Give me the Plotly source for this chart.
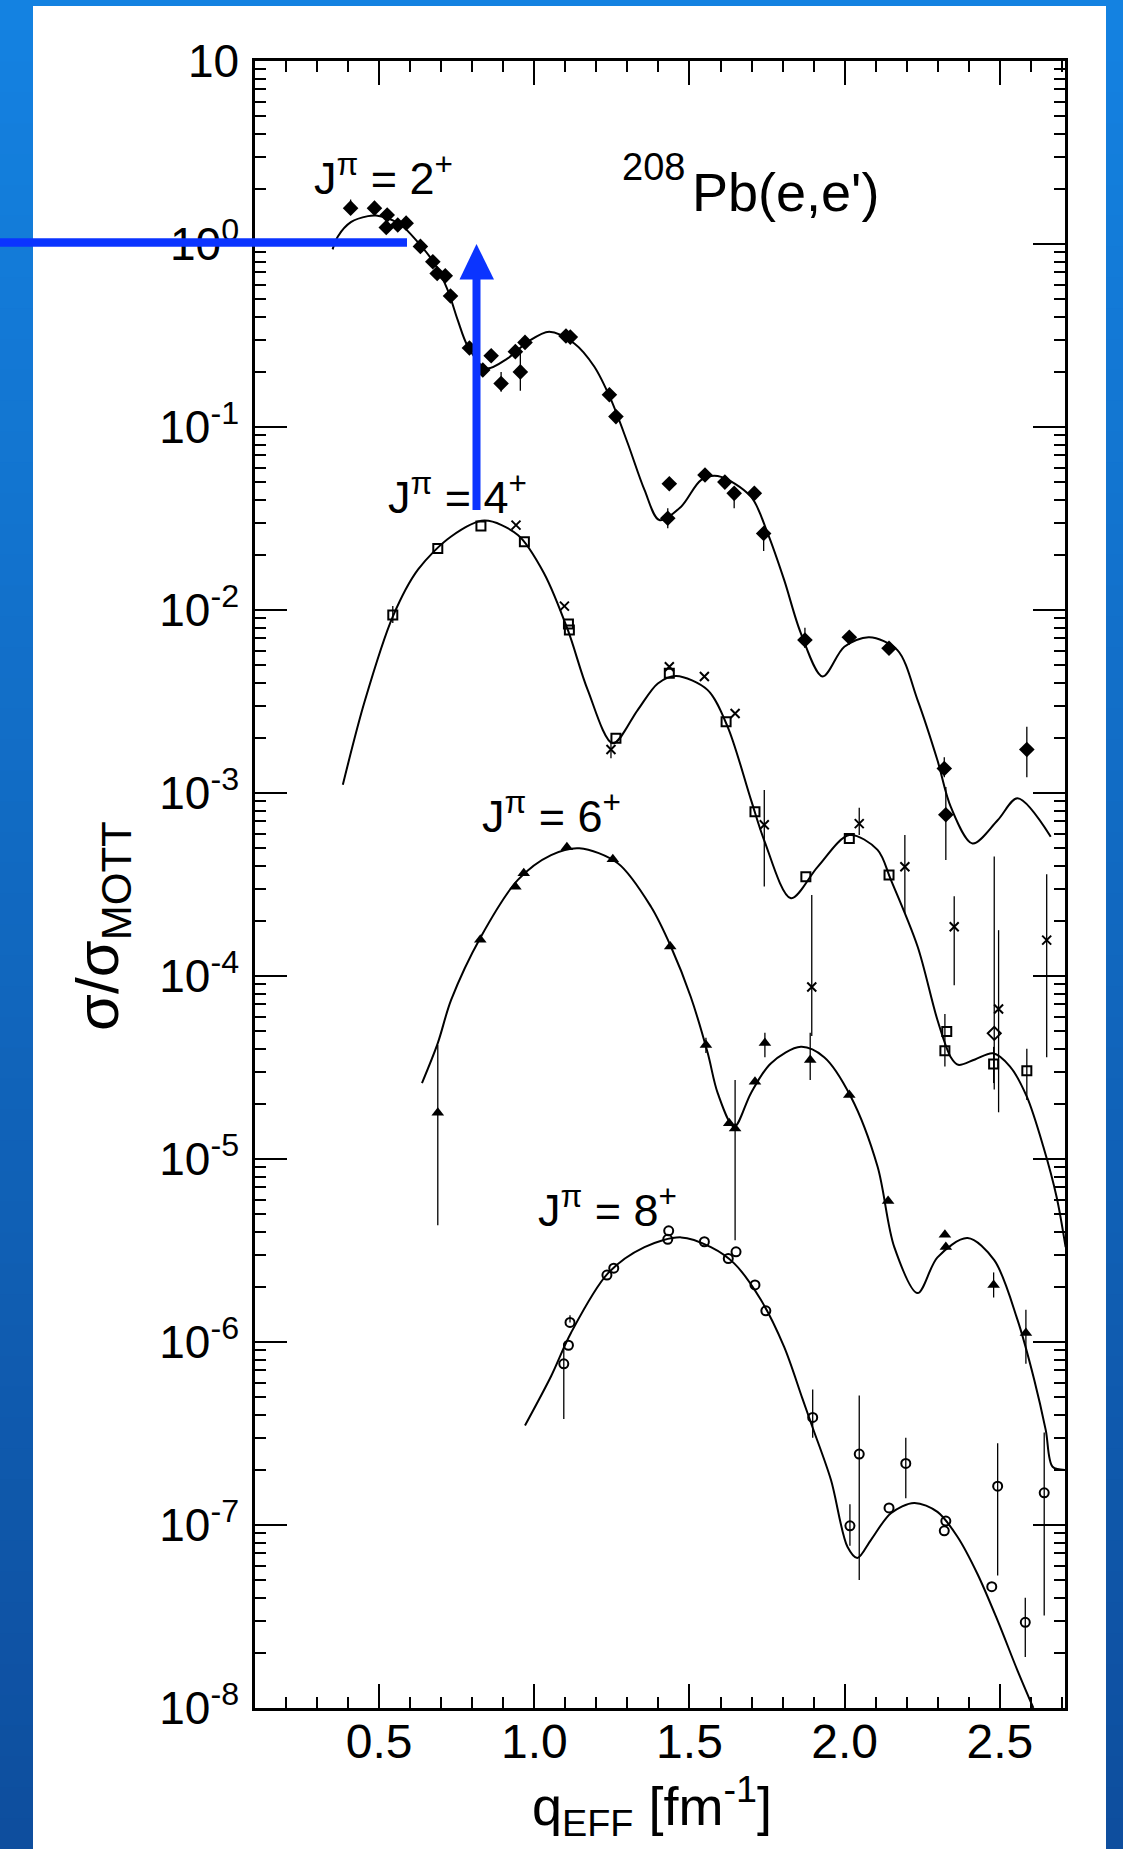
import plotly.graph_objects as go

# ---------------- data ----------------
# J = 2+ : filled diamonds
q2 = [0.408, 0.485, 0.526, 0.523, 0.560, 0.587, 0.633, 0.673, 0.687, 0.713, 0.730, 0.791, 0.834, 0.861,
      0.893, 0.939, 0.955, 0.970, 1.102, 1.116, 1.242, 1.263, 1.435, 1.430, 1.550, 1.614, 1.644, 1.709,
      1.739, 1.872, 2.015, 2.143, 2.321, 2.326, 2.587]
y2 = [1.57, 1.57, 1.44, 1.23, 1.27, 1.30, 0.97, 0.80, 0.69, 0.67, 0.52, 0.27, 0.205, 0.245,
      0.173, 0.258, 0.20, 0.29, 0.314, 0.31, 0.150, 0.114, 0.049, 0.0317, 0.0547, 0.050, 0.0434, 0.0434,
      0.0262, 0.00686, 0.0071, 0.00618, 0.00136, 0.00076, 0.00173]
y2_hi = [1.75, 1.72, 1.44, 1.23, 1.27, 1.30, 0.97, 0.80, 0.69, 0.67, 0.52, 0.27, 0.205, 0.245,
         0.20, 0.258, 0.258, 0.29, 0.314, 0.31, 0.150, 0.114, 0.049, 0.036, 0.0547, 0.050, 0.0434, 0.0434,
         0.0285, 0.0080, 0.0071, 0.00618, 0.00157, 0.00108, 0.0023]
y2_lo = [1.45, 1.45, 1.44, 1.23, 1.27, 1.30, 0.97, 0.80, 0.69, 0.67, 0.52, 0.27, 0.205, 0.245,
         0.156, 0.258, 0.158, 0.29, 0.314, 0.31, 0.150, 0.114, 0.049, 0.028, 0.0547, 0.050, 0.036, 0.0434,
         0.021, 0.0062, 0.0071, 0.00618, 0.00122, 0.00043, 0.00122]

# J = 4+ : open squares
q4s = [0.544, 0.689, 0.828, 0.968, 1.110, 1.113, 1.263, 1.435, 1.618, 1.711, 1.875, 2.015, 2.143,
       2.329, 2.323, 2.480, 2.587]
y4s = [0.0094, 0.0217, 0.0288, 0.0236, 0.00838, 0.00778, 0.00199, 0.00451, 0.00245, 0.00079, 0.000349,
       0.000565, 0.000356, 4.97e-5, 3.9e-5, 3.3e-5, 3.04e-5]
y4s_hi = [0.0105, 0.0217, 0.0288, 0.0236, 0.00838, 0.00778, 0.00199, 0.00451, 0.00245, 0.00079, 0.000349,
          0.000565, 0.000356, 4.97e-5, 6.2e-5, 4.1e-5, 4.0e-5]
y4s_lo = [0.0085, 0.0217, 0.0288, 0.0236, 0.00838, 0.00778, 0.00199, 0.00451, 0.00245, 0.00079, 0.000349,
          0.000565, 0.000356, 4.97e-5, 3.2e-5, 2.6e-5, 2.1e-5]

# J = 4+ : crosses (second data set)
q4x = [0.941, 1.097, 1.247, 1.435, 1.548, 1.647, 1.741, 1.894, 2.047, 2.194, 2.353, 2.496, 2.651]
y4x = [0.0291, 0.0105, 0.00173, 0.0049, 0.00433, 0.00272, 0.00067, 8.7e-5, 0.00068, 0.000395, 0.000186,
       6.6e-5, 0.000157]
y4x_hi = [0.0291, 0.0105, 0.0019, 0.0049, 0.00433, 0.00272, 0.00104, 0.000277, 0.00083, 0.00059, 0.000273,
          0.000178, 0.00036]
y4x_lo = [0.0291, 0.0105, 0.00155, 0.0049, 0.00433, 0.00272, 0.000308, 4.7e-5, 0.000589, 0.00022, 8.9e-5,
          1.8e-5, 3.6e-5]

# J = 4+ : open diamond
q4d = [2.482]
y4d = [4.86e-5]
y4d_hi = [0.00045]
y4d_lo = [2.4e-5]

# J = 6+ : filled triangles
q6 = [0.689, 0.826, 0.939, 0.966, 1.105, 1.253, 1.438, 1.553, 1.628, 1.647, 1.711, 1.743, 1.889, 2.015,
      2.140, 2.323, 2.326, 2.480, 2.584]
y6 = [1.79e-5, 0.000158, 0.000307, 0.000364, 0.000505, 0.000434, 0.000145, 4.2e-5, 1.57e-5, 1.47e-5,
      2.64e-5, 4.3e-5, 3.47e-5, 2.24e-5, 5.9e-6, 3.85e-6, 3.3e-6, 2.05e-6, 1.12e-6]
y6_hi = [4.2e-5, 0.000158, 0.000307, 0.000364, 0.000505, 0.000434, 0.000145, 4.6e-5, 1.57e-5, 2.7e-5,
         2.64e-5, 4.9e-5, 4.9e-5, 2.24e-5, 5.9e-6, 3.85e-6, 3.3e-6, 2.4e-6, 1.5e-6]
y6_lo = [4.35e-6, 0.000158, 0.000307, 0.000364, 0.000505, 0.000434, 0.000145, 3.8e-5, 1.57e-5, 3.6e-6,
         2.64e-5, 3.6e-5, 2.7e-5, 2.24e-5, 5.9e-6, 3.85e-6, 3.3e-6, 1.75e-6, 7.6e-7]

# J = 8+ : open circles
q8 = [1.095, 1.110, 1.115, 1.234, 1.256, 1.433, 1.430, 1.548, 1.625, 1.650, 1.711, 1.746, 1.897, 2.017,
      2.047, 2.143, 2.197, 2.326, 2.321, 2.474, 2.493, 2.582, 2.643]
y8 = [7.6e-7, 9.6e-7, 1.28e-6, 2.32e-6, 2.53e-6, 4.05e-6, 3.64e-6, 3.53e-6, 2.86e-6, 3.11e-6, 2.05e-6,
      1.48e-6, 3.87e-7, 9.9e-8, 2.44e-7, 1.24e-7, 2.17e-7, 1.05e-7, 9.3e-8, 4.6e-8, 1.63e-7, 2.94e-8, 1.5e-7]
y8_hi = [9.8e-7, 9.6e-7, 1.4e-6, 2.32e-6, 2.53e-6, 4.05e-6, 3.64e-6, 3.53e-6, 2.86e-6, 3.11e-6, 2.05e-6,
         1.48e-6, 5.5e-7, 1.3e-7, 5.1e-7, 1.24e-7, 3.0e-7, 1.05e-7, 9.3e-8, 4.6e-8, 2.8e-7, 4.0e-8, 3.2e-7]
y8_lo = [3.8e-7, 9.6e-7, 1.28e-6, 2.32e-6, 2.53e-6, 4.05e-6, 3.64e-6, 3.53e-6, 2.86e-6, 3.11e-6, 2.05e-6,
         1.48e-6, 3.0e-7, 7.7e-8, 5.0e-8, 1.24e-7, 1.4e-7, 1.05e-7, 9.3e-8, 4.6e-8, 5.3e-8, 1.9e-8, 3.2e-8]

# theory curves
c2x = [0.350, 0.367, 0.410, 0.464, 0.490, 0.528, 0.571, 0.619, 0.678, 0.721, 0.753, 0.786, 0.845, 0.914,
       0.979, 1.048, 1.129, 1.193, 1.247, 1.301, 1.355, 1.403, 1.473, 1.537, 1.591, 1.698, 1.752, 1.805,
       1.859, 1.929, 1.999, 2.079, 2.170, 2.235, 2.299, 2.342, 2.412, 2.493, 2.557, 2.664]
c2y = [0.935, 1.10, 1.32, 1.42, 1.43, 1.38, 1.27, 1.05, 0.785, 0.56, 0.385, 0.275, 0.209, 0.237,
       0.292, 0.332, 0.286, 0.214, 0.141, 0.0815, 0.0453, 0.031, 0.0367, 0.0513, 0.054, 0.0416, 0.0262, 0.0146,
       0.00746, 0.00433, 0.0063, 0.0071, 0.00604, 0.00322, 0.00151, 0.00084, 0.00053, 0.00071, 0.000935, 0.000577]

c4x = [0.383, 0.453, 0.544, 0.625, 0.732, 0.839, 0.947, 1.032, 1.108, 1.172, 1.253, 1.333, 1.398, 1.457,
       1.558, 1.623, 1.698, 1.741, 1.827, 1.913, 2.015, 2.106, 2.149, 2.235, 2.299, 2.342, 2.366, 2.420,
       2.478, 2.533, 2.587, 2.640, 2.683, 2.712]
c4y = [0.00111, 0.00315, 0.0092, 0.0166, 0.0252, 0.0308, 0.0257, 0.0158, 0.00778, 0.00366, 0.00187, 0.00284,
       0.00397, 0.00436, 0.00366, 0.0023, 0.00092, 0.00055, 0.000266, 0.000395, 0.000589, 0.000489, 0.000335,
       0.000145, 5.75e-5, 3.6e-5, 3.27e-5, 3.5e-5, 3.78e-5, 3.2e-5, 2.19e-5, 1.17e-5, 6.2e-6, 3.3e-6]

c6x = [0.638, 0.689, 0.732, 0.828, 0.947, 1.054, 1.145, 1.269, 1.376, 1.440, 1.504, 1.559, 1.591, 1.644,
       1.698, 1.762, 1.859, 1.934, 2.020, 2.106, 2.160, 2.235, 2.299, 2.396, 2.482, 2.557, 2.611, 2.648,
       2.670, 2.712]
c6y = [2.6e-5, 4.3e-5, 7.4e-5, 0.000164, 0.000335, 0.000458, 0.000499, 0.000413, 0.000239, 0.000145, 7.7e-5,
       3.78e-5, 2.29e-5, 1.5e-5, 2.29e-5, 3.33e-5, 4.1e-5, 3.6e-5, 2.19e-5, 9.1e-6, 3.3e-6, 1.85e-6, 2.9e-6,
       3.7e-6, 2.8e-6, 1.32e-6, 6.2e-7, 3.3e-7, 2.08e-7, 2.0e-7]

c8x = [0.970, 1.054, 1.118, 1.237, 1.355, 1.473, 1.569, 1.644, 1.730, 1.805, 1.864, 1.897, 1.956, 2.009,
       2.041, 2.085, 2.149, 2.224, 2.299, 2.364, 2.428, 2.493, 2.557, 2.608]
c8y = [3.5e-7, 6.5e-7, 1.12e-6, 2.37e-6, 3.3e-6, 3.73e-6, 3.3e-6, 2.69e-6, 1.7e-6, 9.4e-7, 4.9e-7, 3.4e-7,
       1.76e-7, 7.6e-8, 6.6e-8, 8.3e-8, 1.16e-7, 1.32e-7, 1.18e-7, 8.6e-8, 5.4e-8, 3.0e-8, 1.6e-8, 1.0e-8]

x_tickvals = [0.5, 1.0, 1.5, 2.0, 2.5]
x_ticktext = ["0.5", "1.0", "1.5", "2.0", "2.5"]
y_exponents = [1, 0, -1, -2, -3, -4, -5, -6, -7, -8]

# ---------------- layout geometry ----------------
W, H = 1123, 1849
L, R, T, B = 255, 1065, 61, 1708
FONT = "Liberation Sans, Arial, sans-serif"


def px(x):
    return (x - L) / (R - L)


def py(y):
    return (B - y) / (B - T)


fig = go.Figure()


def errs(y, hi, lo):
    return dict(type="data", symmetric=False,
                array=[h - v for h, v in zip(hi, y)],
                arrayminus=[v - l for v, l in zip(y, lo)],
                color="black", thickness=1.3, width=0)


for cx, cy in [(c2x, c2y), (c4x, c4y), (c6x, c6y), (c8x, c8y)]:
    fig.add_trace(go.Scatter(x=cx, y=cy, mode="lines", line=dict(color="black", width=2, shape="spline",
                                                                  smoothing=0.9),
                             hoverinfo="skip", showlegend=False))

fig.add_trace(go.Scatter(x=q2, y=y2, mode="markers", error_y=errs(y2, y2_hi, y2_lo),
                         marker=dict(symbol="diamond", size=12, color="black"), showlegend=False))
fig.add_trace(go.Scatter(x=q4s, y=y4s, mode="markers", error_y=errs(y4s, y4s_hi, y4s_lo),
                         marker=dict(symbol="square-open", size=9, color="black", line=dict(width=2)),
                         showlegend=False))
fig.add_trace(go.Scatter(x=q4x, y=y4x, mode="markers", error_y=errs(y4x, y4x_hi, y4x_lo),
                         marker=dict(symbol="x-thin", size=9, color="black", line=dict(width=2, color="black")),
                         showlegend=False))
fig.add_trace(go.Scatter(x=q4d, y=y4d, mode="markers", error_y=errs(y4d, y4d_hi, y4d_lo),
                         marker=dict(symbol="diamond-open", size=10, color="black", line=dict(width=2)),
                         showlegend=False))
fig.add_trace(go.Scatter(x=q6, y=y6, mode="markers", error_y=errs(y6, y6_hi, y6_lo),
                         marker=dict(symbol="triangle-up", size=11, color="black"), showlegend=False))
fig.add_trace(go.Scatter(x=q8, y=y8, mode="markers", error_y=errs(y8, y8_hi, y8_lo),
                         marker=dict(symbol="circle-open", size=9, color="black", line=dict(width=2)),
                         showlegend=False))

# ---------------- background (blue gradient frame + white sheet) ----------------
shapes = []
nb = 60
top_c = (20, 130, 225)
bot_c = (14, 78, 158)
for i in range(nb):
    t = i / (nb - 1)
    c = tuple(int(round(top_c[k] + (bot_c[k] - top_c[k]) * t)) for k in range(3))
    y0 = i * H / nb
    y1 = (i + 1) * H / nb + 1
    shapes.append(dict(type="rect", xref="paper", yref="paper", x0=px(0), x1=px(W), y0=py(y1), y1=py(y0),
                       fillcolor="rgb(%d,%d,%d)" % c, line=dict(width=0), layer="below"))
shapes.append(dict(type="rect", xref="paper", yref="paper", x0=px(33), x1=px(1106), y0=py(H + 2), y1=py(6),
                   fillcolor="white", line=dict(width=0), layer="below"))

# blue overlay arrows
BLUE = "#0b34ff"
shapes.append(dict(type="line", xref="paper", yref="paper", x0=px(0), x1=px(407), y0=py(242.5), y1=py(242.5),
                   line=dict(color=BLUE, width=8.5), layer="above"))
shapes.append(dict(type="line", xref="paper", yref="paper", x0=px(476.5), x1=px(476.5), y0=py(510), y1=py(276),
                   line=dict(color=BLUE, width=8), layer="above"))
shapes.append(dict(type="path", xref="paper", yref="paper",
                   path="M %f %f L %f %f L %f %f Z" % (px(476.5), py(244), px(459.5), py(279.5), px(494), py(279.5)),
                   fillcolor=BLUE, line=dict(width=0), layer="above"))

# ---------------- annotations ----------------
ann = []


def add_text(text, x, y, size, angle=0):
    ann.append(dict(text=text, xref="paper", yref="paper", x=px(x), y=py(y), xanchor="center", yanchor="middle",
                    showarrow=False, textangle=angle, font=dict(family=FONT, size=size, color="black")))


add_text("J<sup>π</sup> = 2<sup>+</sup>", 383, 175, 45)
add_text("J<sup>π</sup> = 4<sup>+</sup>", 457, 494, 45)
add_text("J<sup>π</sup> = 6<sup>+</sup>", 551, 813, 45)
add_text("J<sup>π</sup> = 8<sup>+</sup>", 607, 1207, 45)
add_text("208", 653, 167, 38)
add_text("Pb(e,e')", 785, 192, 54)
add_text("σ/σ<sub>MOTT</sub>", 102, 926, 60, -90)
add_text("q<sub>EFF</sub> [fm<sup>-1</sup>]", 652, 1806, 54)

y_ticktext = ["10" if e == 1 else "10<sup>%d</sup>" % e for e in y_exponents]
y_tickvals = [10.0 ** e for e in y_exponents]

fig.update_layout(
    width=W, height=H,
    margin=dict(l=L, r=W - R, t=T, b=H - B, pad=0),
    paper_bgcolor="rgb(20,120,210)",
    plot_bgcolor="rgba(0,0,0,0)",
    shapes=shapes,
    annotations=ann,
    showlegend=False,
    font=dict(family=FONT, color="black"),
    xaxis=dict(range=[0.1, 2.71], tickmode="array", tickvals=x_tickvals, ticktext=x_ticktext,
               ticks="inside", ticklen=24, tickwidth=2, tickcolor="black",
               showline=True, linecolor="black", linewidth=2.5, mirror="ticks",
               showgrid=False, zeroline=False, tickfont=dict(size=48, family=FONT),
               ticklabelstandoff=-10,
               minor=dict(ticks="inside", ticklen=11, tickwidth=2, tickcolor="black", dtick=0.1, tick0=0.0,
                          showgrid=False)),
    yaxis=dict(type="log", range=[-8, 1], tickmode="array", tickvals=y_tickvals, ticktext=y_ticktext,
               ticks="inside", ticklen=32, tickwidth=2, tickcolor="black",
               showline=True, linecolor="black", linewidth=2.5, mirror="ticks",
               showgrid=False, zeroline=False, tickfont=dict(size=46, family=FONT),
               ticklabelstandoff=4,
               minor=dict(ticks="inside", ticklen=11, tickwidth=2, tickcolor="black", dtick="D1",
                          showgrid=False)),
)

fig.write_html("out.html")
